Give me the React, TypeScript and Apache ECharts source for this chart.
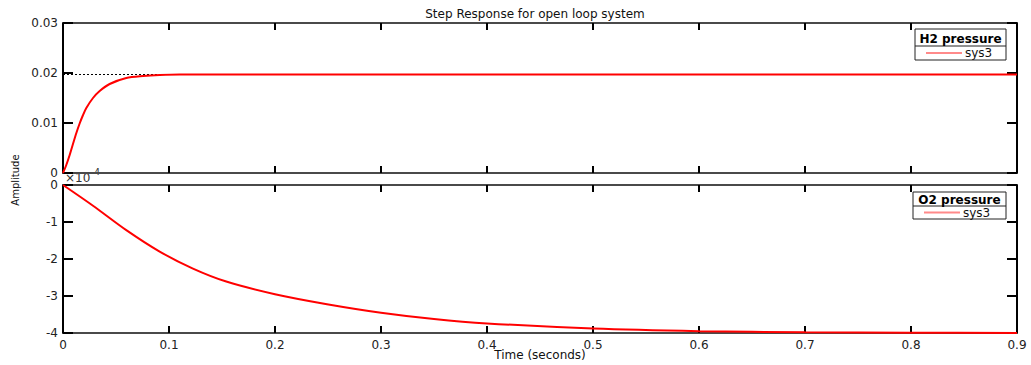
import React, { useEffect, useRef } from "react";
import * as echarts from "echarts";

const titleText = "Step Response for open loop system";
const xLabelText = "Time (seconds)";
const yLabelText = "Amplitude";
const xTicks = [0, 0.1, 0.2, 0.3, 0.4, 0.5, 0.6, 0.7, 0.8, 0.9];

// H2 pressure step response (amplitude)
const h2Time = [0, 0.0031, 0.0063, 0.0094, 0.0126, 0.0157, 0.0189, 0.022, 0.0283, 0.0346, 0.044, 0.0597, 0.0755, 0.0912, 0.11, 0.15, 0.3, 0.9];
const h2Value = [0, 0.0016, 0.0036, 0.0058, 0.008, 0.0099, 0.0116, 0.013, 0.015, 0.0164, 0.0178, 0.019, 0.0194, 0.0196, 0.0197, 0.0197, 0.0197, 0.0197];
const h2Steady = 0.0197;

// O2 pressure step response (in units of 1e-4)
const o2Time = [0, 0.0283, 0.0597, 0.0912, 0.1226, 0.154, 0.2, 0.249, 0.3, 0.35, 0.4, 0.5, 0.6, 0.7, 0.8, 0.9];
const o2Value = [0, -0.56, -1.22, -1.8, -2.26, -2.61, -2.95, -3.22, -3.45, -3.62, -3.74, -3.88, -3.95, -3.98, -3.99, -4.0];

const legendTitles = ["H2 pressure", "O2 pressure"];
const seriesName = "sys3";

const FONT = "'DejaVu Sans', sans-serif";

export default function App() {
  const ref = useRef<HTMLDivElement>(null);
  useEffect(() => {
    if (!ref.current) return;
    const chart = echarts.init(ref.current, null, { renderer: "svg" });
    const axisLineGray = { show: true, onZero: false, lineStyle: { color: "#4a4a4a", width: 2 } };
    const axisLineBlack = { show: true, onZero: false, lineStyle: { color: "#000", width: 2 } };
    const fmtX = (v: number) => String(Math.round(v * 10) / 10);
    const xBase = (grid: number, pos: "bottom" | "top", labels: boolean) => ({
      type: "value",
      gridIndex: grid,
      position: pos,
      min: xTicks[0],
      max: xTicks[xTicks.length - 1],
      interval: 0.1,
      axisLine: axisLineGray,
      axisTick: { show: true, inside: true, length: 7, lineStyle: { color: "#000", width: 2 } },
      axisLabel: { show: labels, color: "#222", fontFamily: FONT, fontSize: 12, margin: 6, formatter: fmtX },
      splitLine: { show: false },
    });
    const yBase = (grid: number, pos: "left" | "right", labels: boolean, min: number, max: number, interval: number) => ({
      type: "value",
      gridIndex: grid,
      position: pos,
      min,
      max,
      interval,
      axisLine: axisLineBlack,
      axisTick: { show: true, inside: true, length: 10, lineStyle: { color: "#000", width: 2 } },
      axisLabel: {
        show: labels,
        color: "#222",
        fontFamily: FONT,
        fontSize: 12,
        margin: 5,
        formatter: (v: number) => String(Math.round(v * 1000) / 1000),
      },
      splitLine: { show: false },
    });

    const legend = (x: number, y: number, w: number, h: number, div: number, title: string) => ({
      type: "group",
      z: 100,
      children: [
        { type: "rect", shape: { x, y, width: w, height: h }, style: { fill: "#fff", stroke: "#222", lineWidth: 1 } },
        { type: "line", shape: { x1: x, y1: y + div, x2: x + w, y2: y + div }, style: { stroke: "#222", lineWidth: 1 } },
        {
          type: "text",
          style: {
            x: x + w / 2,
            y: y + div / 2 + 1,
            text: title,
            align: "center",
            verticalAlign: "middle",
            font: `bold 12px ${FONT}`,
            fill: "#000",
          },
        },
        {
          type: "line",
          shape: { x1: x + 11, y1: y + div + (h - div) / 2, x2: x + 47, y2: y + div + (h - div) / 2 },
          style: { stroke: "#ff8a8a", lineWidth: 2 },
        },
        {
          type: "text",
          style: {
            x: x + 50,
            y: y + div + (h - div) / 2,
            text: seriesName,
            align: "left",
            verticalAlign: "middle",
            font: `12px ${FONT}`,
            fill: "#111",
          },
        },
      ],
    });

    chart.setOption({
      animation: false,
      backgroundColor: "#fff",
      title: {
        text: titleText,
        left: 530,
        top: 3,
        textAlign: "center",
        textStyle: { fontFamily: FONT, fontSize: 12, fontWeight: "normal", color: "#111" },
      },
      grid: [
        { left: 63, right: 14, top: 23, height: 150 },
        { left: 63, right: 14, top: 185, height: 148 },
      ],
      xAxis: [xBase(0, "bottom", false), xBase(0, "top", false), xBase(1, "bottom", true), xBase(1, "top", false)],
      yAxis: [
        yBase(0, "left", true, 0, 0.03, 0.01),
        yBase(0, "right", false, 0, 0.03, 0.01),
        yBase(1, "left", true, -4, 0, 1),
        yBase(1, "right", false, -4, 0, 1),
      ],
      series: [
        {
          type: "line",
          xAxisIndex: 0,
          yAxisIndex: 0,
          data: [[xTicks[0], h2Steady], [xTicks[xTicks.length - 1], h2Steady]],
          showSymbol: false,
          lineStyle: { color: "#000", width: 1, type: [2, 2] },
          z: 1,
        },
        {
          type: "line",
          name: seriesName,
          xAxisIndex: 0,
          yAxisIndex: 0,
          data: h2Time.map((t, i) => [t, h2Value[i]]),
          smooth: 0.3,
          showSymbol: false,
          lineStyle: { color: "#ff0000", width: 2 },
          z: 3,
        },
        {
          type: "line",
          name: seriesName,
          xAxisIndex: 2,
          yAxisIndex: 2,
          data: o2Time.map((t, i) => [t, o2Value[i]]),
          smooth: 0.3,
          showSymbol: false,
          lineStyle: { color: "#ff0000", width: 2 },
          z: 3,
        },
      ],
      graphic: [
        {
          type: "text",
          style: {
            x: 540,
            y: 355,
            text: xLabelText,
            align: "center",
            verticalAlign: "middle",
            font: `12px ${FONT}`,
            fill: "#111",
          },
        },
        {
          type: "text",
          x: 15,
          y: 180,
          rotation: Math.PI / 2,
          style: {
            x: 0,
            y: 0,
            text: yLabelText,
            align: "center",
            verticalAlign: "middle",
            font: `10px ${FONT}`,
            fill: "#111",
          },
        },
        {
          type: "text",
          style: { x: 65, y: 178, text: "×10", align: "left", verticalAlign: "middle", font: `12px ${FONT}`, fill: "#333" },
        },
        {
          type: "text",
          style: { x: 91, y: 172, text: "-4", align: "left", verticalAlign: "middle", font: `9px ${FONT}`, fill: "#333" },
        },
        legend(915, 29, 91, 31, 17, legendTitles[0]),
        legend(913, 192, 93, 27, 14, legendTitles[1]),
      ],
    });
    return () => chart.dispose();
  }, []);
  return <div ref={ref} style={{ position: "absolute", left: 0, top: 0, width: 1031, height: 365 }} />;
}
